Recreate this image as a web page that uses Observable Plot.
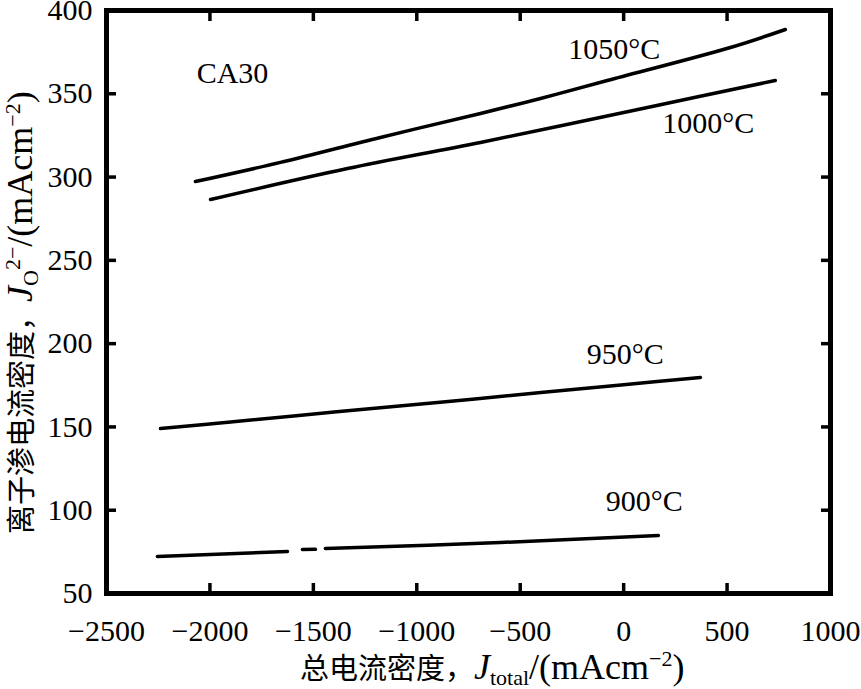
<!DOCTYPE html>
<html>
<head>
<meta charset="utf-8">
<script src="https://cdn.jsdelivr.net/npm/d3@7"></script>
<script src="https://cdn.jsdelivr.net/npm/@observablehq/plot@0.6"></script>
<style>
  html, body { margin: 0; padding: 0; background: #fff; }
  svg { display: block; }
  svg, svg text { font-family: "Liberation Serif", "Times New Roman", Times, "DejaVu Serif", serif, "Noto Sans CJK SC" !important; }
</style>
</head>
<body>
<div id="chart"></div>
<script>
// ---- tick values ----
const xTicks = [-2500, -2000, -1500, -1000, -500, 0, 500, 1000];
const yTicks = [50, 100, 150, 200, 250, 300, 350, 400];

// ---- series (J_total, J_O2-) ----
const x1050 = [-2070, -1659, -1176, -692, -402, -79, 516, 782];
const y1050 = [297.3, 308.8, 323.8, 338.2, 347.2, 358, 377.8, 388.6];

const x1000 = [-1997, -1335, -692, 115, 733];
const y1000 = [286.5, 305.1, 320.8, 341.8, 358];

const x950 = [-2239, -1900, -1400, -900, -400, 0, 371];
const y950 = [149, 153, 158.9, 164.7, 170.6, 175.3, 179.7];

// 900 °C curve has small breaks in the original trace (null = break)
const x900 = [-2254, -1625, -1590, -1553, -1490, -1466, -1442, -596, 168];
const y900 = [72.2, 75.2, null, 76.4, 76.5, null, 77, 80.6, 84.8];

// ---- annotation labels ----
const labelText = ["1050°C", "1000°C", "950°C", "900°C", "CA30"];
const labelX = [-45, 409, 8, 100, -1891];
const labelY = [376.9, 332.5, 193.5, 105.3, 362.5];

const series = [
  {t: "1050°C", xs: x1050, ys: y1050},
  {t: "1000°C", xs: x1000, ys: y1000},
  {t: "950°C", xs: x950, ys: y950},
  {t: "900°C", xs: x900, ys: y900}
];
const lineData = series.flatMap(s => s.xs.map((x, i) => ({t: s.t, x, y: s.ys[i]})));
const labels = labelText.map((t, i) => ({t, x: labelX[i], y: labelY[i]}));

const fmt = d => (d < 0 ? "\u2212" + Math.abs(d) : String(d));
const TS = -10, TW = 3.5;

const plot = Plot.plot({
  width: 861,
  height: 689,
  marginLeft: 106,
  marginRight: 31,
  marginTop: 10,
  marginBottom: 96,
  x: {domain: [-2500, 1000]},
  y: {domain: [50, 400]},
  style: {fontSize: "30px", color: "black", background: "white", overflow: "visible"},
  marks: [
    Plot.axisX({anchor: "bottom", ticks: xTicks, tickSize: TS, tickPadding: 36, strokeWidth: TW, tickFormat: fmt, label: null, fontSize: 30}),
    Plot.axisX({anchor: "top", ticks: xTicks, tickSize: TS, strokeWidth: TW, tickFormat: () => "", label: null}),
    Plot.axisY({anchor: "left", ticks: yTicks, tickSize: TS, tickPadding: 24, strokeWidth: TW, tickFormat: fmt, label: null, fontSize: 30}),
    Plot.axisY({anchor: "right", ticks: yTicks, tickSize: TS, strokeWidth: TW, tickFormat: () => "", label: null}),
    Plot.frame({stroke: "black", strokeWidth: 5}),
    Plot.line(lineData, {x: "x", y: "y", z: "t", stroke: "black", strokeWidth: 3.5, curve: "catmull-rom"}),
    Plot.text(labels, {x: "x", y: "y", text: "t", fontSize: 30, fill: "black", lineAnchor: "middle"})
  ]
});

const svg = d3.select(plot);
const CJK = 29, LAT = 36, SUB = 22;

// x-axis title
const xl = svg.append("text")
  .attr("x", 300).attr("y", 679)
  .attr("text-anchor", "start")
  .attr("font-size", LAT).attr("fill", "black");
xl.append("tspan").attr("font-size", CJK).text("总电流密度，");
xl.append("tspan").attr("font-style", "italic").text("J");
xl.append("tspan").attr("font-size", SUB).attr("dy", 6).text("total");
xl.append("tspan").attr("dy", -6).text("/(mAcm");
xl.append("tspan").attr("font-size", SUB).attr("dy", -13).text("\u22122");
xl.append("tspan").attr("dy", 13).text(")");

// y-axis title (rotated)
const yl = svg.append("text")
  .attr("transform", "translate(32,534) rotate(-90)")
  .attr("text-anchor", "start")
  .attr("font-size", LAT).attr("fill", "black");
yl.append("tspan").attr("font-size", CJK).text("离子渗电流密度，");
yl.append("tspan").attr("font-style", "italic").text("J");
yl.append("tspan").attr("font-size", SUB).attr("dy", 6).text("O");
yl.append("tspan").attr("font-size", SUB).attr("dy", -18).text("2\u2212");
yl.append("tspan").attr("dy", 12).text("/(mAcm");
yl.append("tspan").attr("font-size", SUB).attr("dy", -12).text("\u22122");
yl.append("tspan").attr("dy", 12).text(")");

document.getElementById("chart").appendChild(plot);
</script>
</body>
</html>
